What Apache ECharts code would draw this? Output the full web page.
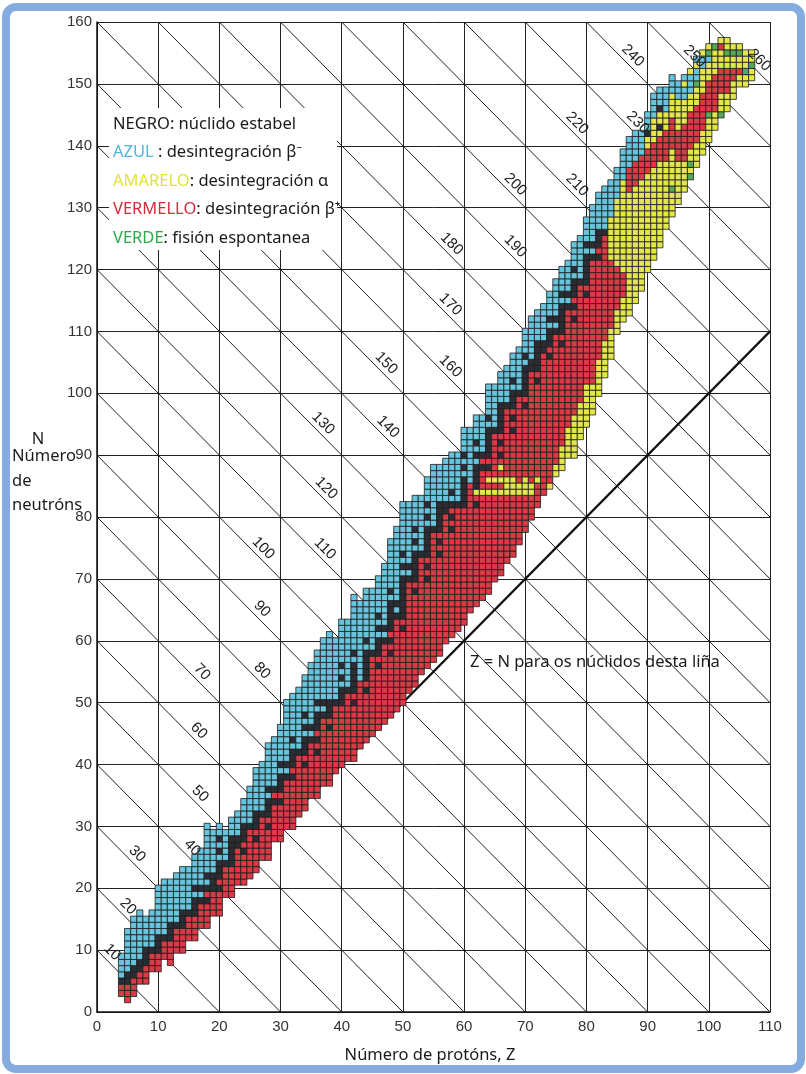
<!DOCTYPE html>
<html>
<head>
<meta charset="utf-8">
<script src="https://cdn.jsdelivr.net/npm/echarts@6/dist/echarts.min.js"></script>
<style>
html,body{margin:0;padding:0;background:#ffffff;}
#chart{width:806px;height:1074px;}
</style>
</head>
<body>
<div id="chart"></div>
<script>
// ---------- DATA ----------
const xTicks = [0,10,20,30,40,50,60,70,80,90,100,110];
const yTicks = [0,10,20,30,40,50,60,70,80,90,100,110,120,130,140,150,160];

// isobars (A = Z + N) drawn as diagonals, with their labels
const isobarA = [10,20,30,40,50,60,70,80,90,100,110,120,130,140,150,160,170,180,190,200,210,220,230,240,250,260];
// where along each isobar (in Z) its label sits
const isobarLabelZ = [1.4,4.0,5.5,14.5,15.8,15.6,16.1,25.9,25.9,26.1,36.2,36.4,35.9,46.5,46.2,56.7,56.7,56.9,67.3,67.3,77.4,77.4,87.3,86.5,96.6,107.2];

// nuclide columns: proton number, first neutron number, run-length colour code
// r = beta+ (red), k = stable (black), b = beta- (blue), y = alpha (yellow), g = spontaneous fission (green)
const columnZ = [4,5,6,7,8,9,10,11,12,13,14,15,16,17,18,19,20,21,22,23,24,25,26,27,28,29,30,31,32,33,34,35,36,37,38,39,40,41,42,43,44,45,46,47,48,49,50,51,52,53,54,55,56,57,58,59,60,61,62,63,64,65,66,67,68,69,70,71,72,73,74,75,76,77,78,79,80,81,82,83,84,85,86,87,88,89,90,91,92,93,94,95,96,97,98,99,100,101,102,103,104,105,106,107];
const columnStartN = [3,2,3,5,5,7,7,9,8,10,10,12,12,14,14,16,16,19,19,21,21,22,23,25,25,28,28,30,30,32,33,35,35,37,37,39,40,41,41,43,44,45,46,47,48,49,50,52,53,55,56,57,58,60,61,62,63,65,66,67,68,70,71,73,74,76,78,80,82,84,85,87,88,90,90,93,95,97,100,103,106,110,112,113,115,117,120,122,124,127,129,131,133,135,137,139,141,143,145,146,148,150,150,151];
const columnRuns = [
"r2 k1 b4","r3 k2 b7","r3 k2 b8","r2 k2 b8","r3 k3 b5","r3 k1 b6","r3 k3 b8","r3 k1 b9","r4 k3 b7","r4 k1 b8",
"r4 k3 b7","r4 k1 b7","r4 k3 b1 k1 b5","r4 k1 b1 k1 b6","r4 k1 r1 k1 b1 k1 b8","r4 k3 b7","r4 k1 r1 k3 b1 k1 b1 k1 b2","r5 k1 b5","r5 k5 b3","r6 k2 b4",
"r5 k1 r1 k3 b4","r8 k1 b6","r5 k1 r1 k3 b7","r7 k1 b8","r5 k1 r1 k3 b1 k1 b7","r6 k1 r1 k1 b8","r6 k1 r1 k3 b1 k1 b6","r8 k1 b1 k1 b10","r8 k1 r1 k3 b1 k1 b7","r10 k1 b10",
"r7 k1 r1 k3 b1 k1 b1 k1 b6","r9 k1 b1 k1 b10","r7 k1 r1 k1 r1 k3 b1 k1 b8","r11 k1 b1 k1 b10","r9 k1 r1 k3 b11","r11 k1 b10","r10 k3 b1 k1 b1 k1 b7","r11 k1 b11","r9 k1 r1 k5 b1 k1 b9","r11 b13",
"r8 k1 r1 k5 b1 k1 b8","r13 k1 b10","r10 k1 r1 k3 b1 k1 b1 k1 b6","r13 k1 b1 k1 b10","r10 k1 r1 k1 r1 k5 b1 k1 b8","r15 k1 b1 k1 b12","r12 k1 r1 k7 b1 k1 b1 k1 b8","r18 k1 b1 k1 b10","r15 k1 r1 k5 b1 k1 b1 k1 b5","r19 k1 b9",
"r14 k1 r1 k1 r1 k5 b1 k1 b1 k1 b4","r21 k1 b10","r16 k1 r1 k1 r1 k5 b6","r21 k2 b7","r17 k1 r1 k1 r1 k1 b1 k1 b6","r20 k1 b8","r19 k5 b1 k1 b1 k1 b4","r21 b9","r16 k1 r1 y1 k4 b1 k1 b1 k1 b4","r17 y1 r3 k1 r1 k1 b6",
"r16 y1 r1 y1 r1 k1 r1 k5 b1 k1 b5","r14 y1 r1 y1 r7 k1 b7","r13 y1 r1 y1 r1 y1 r1 k1 r1 k1 r1 k5 b5","r11 y3 r11 k1 b6","r10 y3 r7 k1 r1 k1 r1 k3 b1 k1 b4","r8 y2 r14 k1 b7","r6 y3 r11 k1 r1 k5 b1 k1 b4","r4 y2 r18 k2 b7","r4 y1 r15 k1 r1 k5 b5","r23 k2 b6",
"y1 r20 k1 r1 k3 b1 k1 b4","y2 r21 k1 b1 k1 b6","y4 r16 k1 r1 k5 b1 k1 b4","y5 r19 k1 b1 k1 b5","y7 r15 k1 r1 k1 r1 k3 b1 k1 b4","y6 r19 k1 b7","y7 r14 k1 r1 k5 b1 k1 b4","y5 r20 k1 b1 k1 b6","y6 r16 k1 r1 k3 b6","y6 r17 k1 b7",
"y5 r11 y7 b6","y4 r7 y11 b5","y4 r4 y15 b5","y20 r4 b5","y19 r4 b5","y18 r4 b4","y16 r4 y2 k1 b3","y15 r4 y4 b4","y14 r4 y1 k1 y2 k1 b3","y11 r5 y3 b4",
"y4 g1 y6 r5 y4 b3","y7 r5 y5 b3","y5 r6 y4 b2 y1 b1","g1 y1 g1 y2 r6 y3 b3 y1","y4 r6 y3 g1 b2 y1 b1","y4 r6 y4 b2 y1","y4 g1 r5 y3 b1 g1 y1","y3 r6 y4 g1","g1 y3 r4 y3 r1 y1","y3 r4 y2 g1 y2",
"y3 r2 y2 g1 y1","y2 r1 y2 g1 y1","y2 g1 y3","y2 g1 y2"
];

// ---------- STYLE ----------
const codeOrder = ['r','k','b','y','g'];
const codeColor = ['#d93a45','#2c2c34','#67c4dd','#e3e64b','#55a957'];
const FONT = '"Noto Sans", "DejaVu Sans", sans-serif';
const AXFONT = '"Liberation Sans", Arial, sans-serif';
const X_MAX = 110, Y_MAX = 160;
const zEqNStart = 8;

// build cells from the column descriptions
const cells = [];
columnZ.forEach((z, i) => {
  let n = columnStartN[i];
  columnRuns[i].split(' ').forEach(tok => {
    const code = codeOrder.indexOf(tok[0]);
    const len = parseInt(tok.slice(1), 10);
    for (let j = 0; j < len; j++) { cells.push([z, n, code]); n++; }
  });
});

const isoLines = isobarA.map(A => ({
  coords: [[Math.max(0, A - Y_MAX), Math.min(A, Y_MAX)], [Math.min(A, X_MAX), Math.max(0, A - X_MAX)]]
}));
const isoLabelData = isobarA.map((A, i) => [isobarLabelZ[i], A - isobarLabelZ[i], A]);

const chart = echarts.init(document.getElementById('chart'), null, {renderer: 'canvas'});
chart.setOption({
  animation: false,
  backgroundColor: '#ffffff',
  grid: {left: 97, right: 36, top: 22, bottom: 62, outerBoundsMode: 'none'},
  xAxis: {
    type: 'value', min: 0, max: X_MAX, interval: 10,
    axisLine: {show: true, lineStyle: {color: '#111', width: 1.5}},
    axisTick: {show: false},
    axisLabel: {fontSize: 15, color: '#333', fontFamily: AXFONT, margin: 7},
    splitLine: {show: true, lineStyle: {color: '#222', width: 1}}
  },
  yAxis: {
    type: 'value', min: 0, max: Y_MAX, interval: 10,
    axisLine: {show: true, lineStyle: {color: '#111', width: 1.5}},
    axisTick: {show: false},
    axisLabel: {fontSize: 15, color: '#333', fontFamily: AXFONT, margin: 5},
    splitLine: {show: true, lineStyle: {color: '#222', width: 1}}
  },
  series: [
    {
      type: 'lines', coordinateSystem: 'cartesian2d', silent: true, z: 1,
      lineStyle: {color: '#222', width: 1, opacity: 1},
      data: isoLines
    },
    {
      type: 'line', silent: true, z: 2, symbol: 'none',
      lineStyle: {color: '#111', width: 2.2},
      data: [[zEqNStart, zEqNStart], [X_MAX, X_MAX]]
    },
    {
      type: 'custom', silent: true, z: 5,
      encode: {x: 0, y: 1},
      data: cells,
      renderItem: function (params, api) {
        const z = api.value(0), n = api.value(1);
        const p0 = api.coord([z - 0.5, n + 0.5]);
        const p1 = api.coord([z + 0.5, n - 0.5]);
        return {
          type: 'rect',
          shape: {x: p0[0], y: p0[1], width: p1[0] - p0[0], height: p1[1] - p0[1]},
          style: {fill: codeColor[api.value(2)], stroke: '#1d1d1d', lineWidth: 0.8}
        };
      }
    },
    {
      type: 'custom', silent: true, z: 6,
      encode: {x: 0, y: 1},
      data: isoLabelData,
      renderItem: function (params, api) {
        const p = api.coord([api.value(0), api.value(1)]);
        return {
          type: 'text',
          x: p[0] + 6.5, y: p[1] - 6.5,
          rotation: -Math.PI / 4,
          style: {text: String(api.value(2)), fontSize: 15, fontFamily: AXFONT, fill: '#222', align: 'center', verticalAlign: 'middle'}
        };
      }
    }
  ],
  graphic: [
    {type: 'rect', z: 50, shape: {x: 109, y: 108, width: 228, height: 142}, style: {fill: '#ffffff'}},
    {type: 'text', z: 60, x: 113, y: 124, style: {text: 'NEGRO: núclido estabel', fontSize: 16.5, fontFamily: FONT, fill: '#1a1a1a', verticalAlign: 'middle'}},
    {type: 'text', z: 60, x: 113, y: 152.5, style: {text: '{c|AZUL} : desintegración β⁻', fontSize: 16.5, fontFamily: FONT, fill: '#1a1a1a', verticalAlign: 'middle',
      rich: {c: {fill: '#4fb6de', fontSize: 16.5, fontFamily: FONT}}}},
    {type: 'text', z: 60, x: 113, y: 181, style: {text: '{c|AMARELO}: desintegración α', fontSize: 16.5, fontFamily: FONT, fill: '#1a1a1a', verticalAlign: 'middle',
      rich: {c: {fill: '#e2e43a', fontSize: 16.5, fontFamily: FONT}}}},
    {type: 'text', z: 60, x: 113, y: 209.5, style: {text: '{c|VERMELLO}: desintegración β⁺', fontSize: 16.5, fontFamily: FONT, fill: '#1a1a1a', verticalAlign: 'middle',
      rich: {c: {fill: '#d8283c', fontSize: 16.5, fontFamily: FONT}}}},
    {type: 'text', z: 60, x: 113, y: 238, style: {text: '{c|VERDE}: fisión espontanea', fontSize: 16.5, fontFamily: FONT, fill: '#1a1a1a', verticalAlign: 'middle',
      rich: {c: {fill: '#2fa84c', fontSize: 16.5, fontFamily: FONT}}}},
    {type: 'text', z: 60, x: 470, y: 662, style: {text: 'Z = N para os núclidos desta liña', fontSize: 16.5, fontFamily: FONT, fill: '#1a1a1a', verticalAlign: 'middle'}},
    {type: 'text', z: 60, x: 38, y: 439, style: {text: 'N', fontSize: 16.5, fontFamily: FONT, fill: '#1a1a1a', align: 'center', verticalAlign: 'middle'}},
    {type: 'text', z: 60, x: 12, y: 456, style: {text: 'Número', fontSize: 16.5, fontFamily: FONT, fill: '#1a1a1a', verticalAlign: 'middle'}},
    {type: 'text', z: 60, x: 12, y: 481, style: {text: 'de', fontSize: 16.5, fontFamily: FONT, fill: '#1a1a1a', verticalAlign: 'middle'}},
    {type: 'text', z: 60, x: 12, y: 505, style: {text: 'neutróns', fontSize: 16.5, fontFamily: FONT, fill: '#1a1a1a', verticalAlign: 'middle'}},
    {type: 'text', z: 60, x: 430, y: 1055, style: {text: 'Número de protóns, Z', fontSize: 16.5, fontFamily: FONT, fill: '#1a1a1a', align: 'center', verticalAlign: 'middle'}},
    {type: 'rect', z: 200, shape: {x: 6, y: 7, width: 795, height: 1062, r: 10}, style: {fill: 'none', stroke: '#86abde', lineWidth: 8}}
  ]
});
</script>
</body>
</html>
